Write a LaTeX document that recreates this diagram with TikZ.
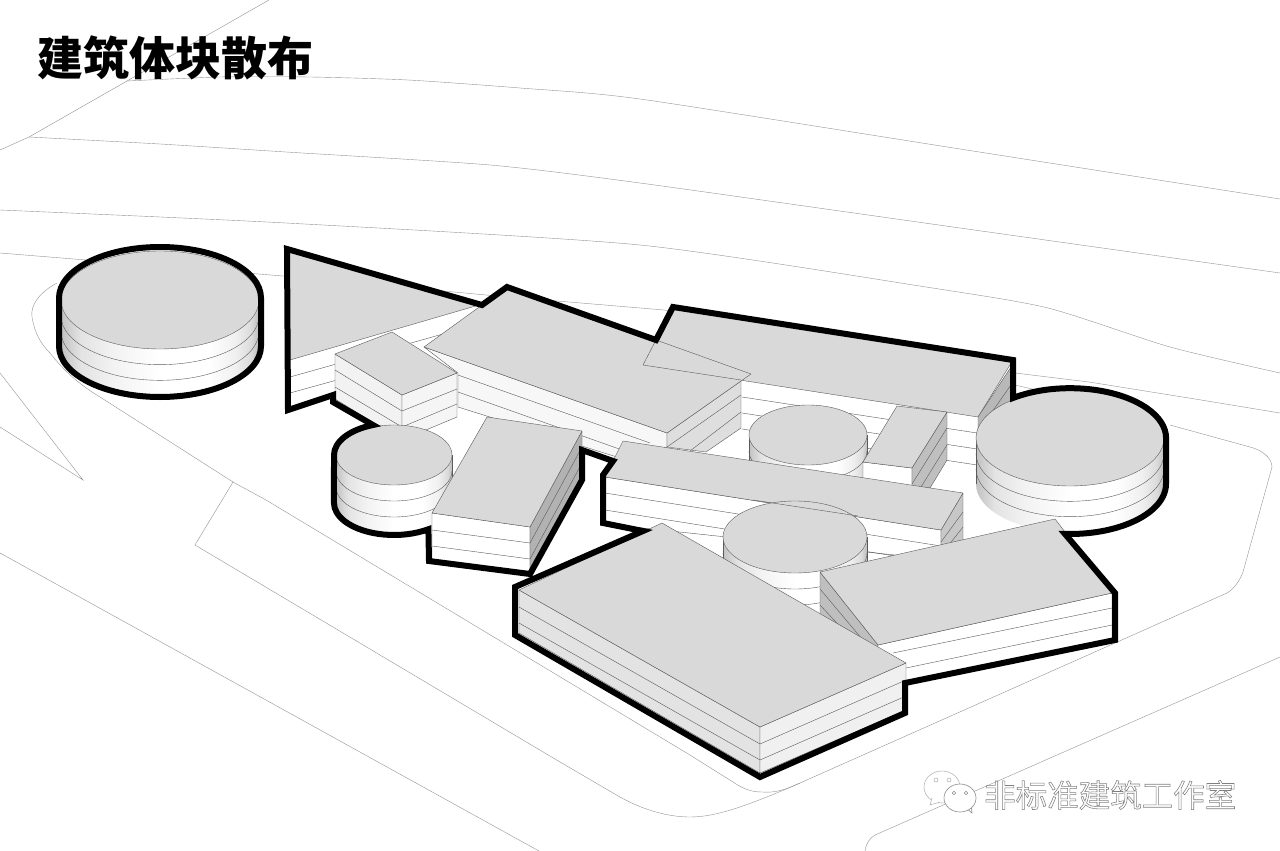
\documentclass[tikz,border=0pt]{standalone}
\usepackage{fontspec}
\newfontfamily\cjk{Noto Sans CJK SC}
\definecolor{roofgrey}{HTML}{D9D9D9}
\definecolor{edgegrey}{HTML}{5A5A5A}
\pgfdeclarehorizontalshading{cylside}{100bp}{
  color(0bp)=(black!24);color(25bp)=(black!24);color(30bp)=(black!11);color(38bp)=(black!5);
  color(50bp)=(white);color(62bp)=(white);color(69bp)=(black!6);color(73bp)=(black!14);color(75bp)=(black!26);color(100bp)=(black!26)}
\tikzset{
  site/.style={draw=black!42,line width=.4pt},
  roof/.style={fill=roofgrey,draw=edgegrey,line width=.4pt,line join=round},
  wall/.style={draw=edgegrey,line width=.4pt,line join=round},
  stripe/.style={draw=edgegrey,line width=.4pt},
  outline/.style={draw=black,line width=6pt,line join=miter,miter limit=6},
  icon/.style={draw=black!45,line width=.6pt,fill=white}
}
% centre x, centre y, x radius, y radius, height
\newcommand{\cylbody}[5]{
  \shade[shading=cylside] ({#1-#3},{#2}) arc[start angle=180,end angle=0,x radius=#3,y radius=#4]
     -- ({#1+#3},{#2+#5}) arc[start angle=0,end angle=180,x radius=#3,y radius=#4] -- cycle;
  \draw[stripe] ({#1-#3},{#2+#5/3}) arc[start angle=180,end angle=0,x radius=#3,y radius=#4];
  \draw[stripe] ({#1-#3},{#2+2*#5/3}) arc[start angle=180,end angle=0,x radius=#3,y radius=#4];
  \draw[stripe] ({#1-#3},{#2}) -- ({#1-#3},{#2+#5});
  \draw[stripe] ({#1+#3},{#2}) -- ({#1+#3},{#2+#5});
  \draw[roof] (#1,#2) circle[x radius=#3,y radius=#4];
}
\begin{document}
\begin{tikzpicture}[x=1pt,y=-1pt]
\useasboundingbox (0,0) rectangle (1280,851);
\clip (0,0) rectangle (1280,851);
\fill[white] (0,0) rectangle (1280,851);
% ---- site lines
\draw[site] (0,150) -- (29,137) -- (127,81) -- (269,0);
\draw[site] plot[smooth,tension=.4] coordinates {(127,81) (220,77) (310,77) (408,80) (520,88) (640,99) (960,149) (1280,199)};
\draw[site] plot[smooth,tension=.4] coordinates {(29,137) (160,144) (286,152) (490,165) (640,183) (960,228) (1280,273)};
\draw[site] plot[smooth,tension=.4] coordinates {(0,210) (286,223) (640,245) (926,287) (1048,308) (1170,347) (1280,373)};
\draw[site] (0,253) -- (283,276) -- (486,295) -- (664,310) -- (1015,373) -- (1089,382) -- (1195,399) -- (1280,413);
\draw[site] (1015,385) -- (1032,389);
\draw[site] (57,283) .. controls (40,292) and (30,305) .. (32,317) .. controls (35,335) and (42,345) .. (50,353)
   .. controls (65,372) and (80,385) .. (100,397) -- (233,482) -- (266,500) -- (690,755) -- (733,782)
   .. controls (742,788) and (750,792) .. (762,792) .. controls (775,793) and (785,790) .. (800,783)
   -- (1115,643) -- (1227,593)
   .. controls (1235,588) and (1240,580) .. (1243,572) -- (1272,467)
   .. controls (1272,458) and (1262,450) .. (1250,447) -- (1170,425);
\draw[site] (233,482) -- (195,545) -- (560,762) -- (620,797)
   .. controls (645,811) and (670,817) .. (690,817) .. controls (715,817) and (745,807) .. (800,783);
\draw[site] (0,553) -- (539,851);
\draw[site] (0,373) -- (83,480) -- (0,427);
\draw[site] (865,851) .. controls (866,843) and (870,838) .. (875,835) -- (1280,657);
% ---- left drum
\cylbody{160}{300}{99}{49}{47}
\draw[outline] (59,298) arc[start angle=180,end angle=360,x radius=101,y radius=51] -- (261,346)
   arc[start angle=0,end angle=180,x radius=101,y radius=51] -- cycle;
% ---- ground of the main mass
\path[fill=white] (287,249) -- (482,305) -- (507,287) -- (656,340) -- (673,307) -- (1013,360) -- (1013,398)
   arc[start angle=233.5,end angle=360,x radius=96,y radius=50] -- (1166,484)
   arc[start angle=0,end angle=93,x radius=96,y radius=50] -- (1115,593) -- (1115,640) -- (905,683) -- (905,713)
   -- (760,777) -- (515,635) -- (515,587) -- (643,531) -- (603,523) -- (603,475) -- (613,461) -- (582,450) -- (582,480)
   -- (530,574) -- (429,561) -- (428.4,529.2)
   arc[start angle=55,end angle=180,x radius=60,y radius=32] -- (334,455)
   arc[start angle=180,end angle=249.5,x radius=60,y radius=32] -- (333,402) -- (333,395) -- (288,410) -- cycle;
% ---- triangle
\draw[roof] (287,249) -- (479,305) -- (290,360) -- cycle;
\draw[stripe] (290,377) -- (443,334);
\draw[stripe] (290,393) -- (420,357);
% ---- C long back block
\draw[roof] (673,307) -- (1013,360) -- (978,417) -- (643,365) -- cycle;
\draw[stripe] (742,397) -- (977,433);
\draw[stripe] (742,413) -- (977,449);
\draw[stripe] (742,429) -- (977,465);
\draw[wall,fill=black!28] (1013,364) -- (978,417) -- (978,445) -- (1013,402) -- cycle;
\draw[stripe] (978,432) -- (1013,382);
% ---- right drum
\cylbody{1070}{438}{94}{48}{46}
% ---- small left block
\draw[wall,fill=black!5] (335,354) -- (402,395) -- (402,440) -- (335,399) -- cycle;
\draw[wall,fill=black!4] (402,395) -- (457,373) -- (457,417) -- (402,440) -- cycle;
\draw[stripe] (335,370) -- (402,411) -- (457,389);
\draw[stripe] (335,387) -- (402,427) -- (457,404);
\draw[roof] (335,354) -- (392,332) -- (457,373) -- (402,395) -- cycle;
% ---- B long central block
\draw[wall,fill=black!3] (424,347) -- (667,433) -- (667,447) -- (620,458) -- (458,407) -- (458,373) -- cycle;
\draw[wall,fill=black!13] (667,433) -- (741,381) -- (741,428) -- (706,452) -- (667,447) -- cycle;
\draw[stripe] (458,375) -- (650,443);
\draw[stripe] (458,392) -- (625,451);
\draw[stripe] (667,447) -- (741,395);
\draw[stripe] (690,451) -- (741,412);
\draw[roof] (424,347) -- (482,305) -- (507,287) -- (656,340) -- (751,374) -- (667,433) -- cycle;
\draw[wall] (656,340) -- (643,365) -- (741,380);
% ---- middle drum
\cylbody{808}{435}{59}{30}{48}
% ---- F small block
\draw[wall,fill=white] (863,462) -- (912,468) -- (912,486) -- (863,480) -- cycle;
\draw[wall,fill=black!25] (912,468) -- (947,412) -- (947,460) -- (930,488) -- (912,486) -- cycle;
\draw[stripe] (912,484) -- (947,428);
\draw[stripe] (921,487) -- (947,445);
\draw[roof] (897,406) -- (947,412) -- (912,468) -- (863,462) -- cycle;
% ---- D long middle block
\draw[wall,fill=white] (605,477) -- (941,530) -- (941,560) -- (605,524) -- cycle;
\draw[wall,fill=black!22] (963,493) -- (941,530) -- (941,548) -- (963,544) -- cycle;
\draw[stripe] (605,493) -- (941,546);
\draw[stripe] (605,510) -- (895,556);
\draw[stripe] (941,542) -- (963,512);
\draw[stripe] (948,546) -- (963,527);
\draw[roof] (623,441) -- (963,493) -- (941,530) -- (605,477) -- cycle;
% ---- lower middle drum
\cylbody{795}{537}{72}{36}{48}
\draw[wall] (753,500) -- (858,516);
% ---- small left drum
\cylbody{394}{455}{58}{30}{48}
% ---- E block
\draw[wall,fill=white] (432,513) -- (530,527) -- (530,574) -- (432,560) -- cycle;
\draw[wall,fill=black!30] (530,527) -- (582,431) -- (582,480) -- (530,574) -- cycle;
\draw[stripe] (432,530) -- (530,543) -- (582,447);
\draw[stripe] (432,546) -- (530,559) -- (582,463);
\draw[roof] (487,417) -- (582,431) -- (530,527) -- (432,513) -- cycle;
% ---- J right front block
\draw[wall,fill=black!25] (820,572) -- (878,645) -- (878,660) -- (820,620) -- cycle;
\draw[stripe] (820,589) -- (878,658);
\draw[stripe] (820,605) -- (862,650);
\draw[wall,fill=white] (878,645) -- (1112,593) -- (1112,640) -- (906,684) -- (878,684) -- cycle;
\draw[stripe] (893,653) -- (1112,608);
\draw[stripe] (906,668) -- (1112,625);
\draw[roof] (820,572) -- (1055,519) -- (1112,593) -- (878,645) -- cycle;
% ---- K big front block
\draw[wall,fill=black!11] (519,590) -- (760,727) -- (760,773) -- (519,633) -- cycle;
\draw[wall,fill=black!6] (760,727) -- (906,663) -- (906,710) -- (760,773) -- cycle;
\draw[stripe] (519,607) -- (760,744) -- (906,680);
\draw[stripe] (519,623) -- (760,760) -- (906,696);
\draw[roof] (519,590) -- (662,523) -- (906,663) -- (760,727) -- cycle;
% ---- main thick outline
\draw[outline] (287,249) -- (482,305) -- (507,287) -- (656,340) -- (673,307) -- (1013,360) -- (1013,398)
   arc[start angle=233.5,end angle=360,x radius=96,y radius=50] -- (1166,484)
   arc[start angle=0,end angle=93,x radius=96,y radius=50] -- (1115,593) -- (1115,640) -- (905,683) -- (905,713)
   -- (760,777) -- (515,635) -- (515,587) -- (643,531) -- (603,523) -- (603,475) -- (613,461) -- (582,450) -- (582,480)
   -- (530,574) -- (429,561) -- (428.4,529.2)
   arc[start angle=55,end angle=180,x radius=60,y radius=32] -- (334,455)
   arc[start angle=180,end angle=249.5,x radius=60,y radius=32] -- (333,402) -- (333,395) -- (288,410) -- cycle;
% ---- title
\node[anchor=west,inner sep=0pt,font=\cjk\bfseries\fontsize{46}{46}\selectfont,text=black] (title) at (37,58) {建筑体块散布};
% ---- watermark
\draw[icon,draw=black!28] (942,787) ellipse[x radius=18,y radius=16];
\draw[icon,draw=black!28] (932,798) -- (930,805) -- (940,802);
\fill[white] (933,797) rectangle (940,801);
\foreach \p in {(936,780),(949,780)} \draw[draw=black!35,line width=.5pt] \p circle[radius=2];
\draw[icon] (966,808) -- (972,813) -- (971,804);
\draw[icon] (960,798) ellipse[x radius=16,y radius=14];
\foreach \p in {(954,793),(966,793)} \draw[draw=black!45,line width=.5pt] \p circle[radius=1.8];
\node[anchor=west,inner sep=0pt,font=\cjk\fontsize{31.5}{32}\selectfont,text=black!55] (mark) at (984,795)
  {\special{pdf:code q 1 Tr 0.55 w 0.5 G}非标准建筑工作室\special{pdf:code 0 Tr Q}};
\end{tikzpicture}
\end{document}
